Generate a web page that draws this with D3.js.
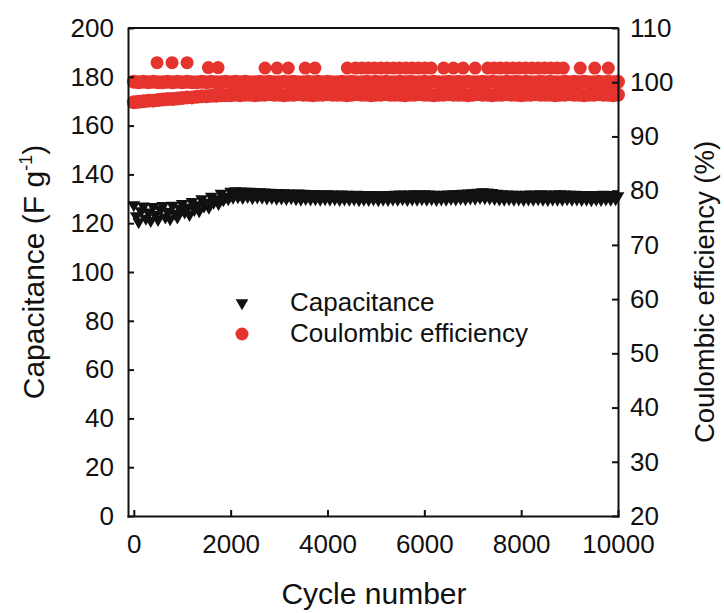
<!DOCTYPE html>
<html>
<head>
<meta charset="utf-8">
<script src="https://cdn.jsdelivr.net/npm/d3@7"></script>
<style>
  body { margin: 0; background: #fff; }
  svg text { font-family: "Liberation Sans", Arial, sans-serif; fill: #111; }
  .axis path, .axis line { stroke: #111; stroke-width: 2; }
</style>
</head>
<body>
<script>
// cycle numbers for capacitance (sampled every 50 cycles)
var capCycles = d3.range(0, 10001, 50);
var capValues = [
  127.5,123,120.5,125,127,122,124.5,121,126.8,123.5,121.5,125.5,127.2,122.5,124.8,121.8,127.3,124,122.5,126,128,124.5,126.5,123.5,128.8,125.5,127.5,125,130,127,128.5,126.5,131,128.5,130,128,132.2,129.5,131,130,133,
  130.6,133.2,130.8,133.1,130.5,133,130.9,133,130.4,132.9,130.7,132.8,130.6,132.7,130.3,132.6,130.5,132.5,130.2,132.5,
  130.3,132.4,130.1,132.3,130.4,132.2,130,132.3,129.8,132.2,130.1,132,129.9,132.1,130,132,129.7,131.9,130,132,
  129.8,131.9,130,131.8,129.6,131.9,129.9,131.8,129.7,131.7,129.9,131.8,129.5,131.7,129.8,131.6,129.6,131.7,129.9,131.6,
  129.5,131.6,129.8,131.7,129.6,131.6,129.9,131.8,129.7,131.9,130,131.8,129.6,131.9,129.9,132,129.8,131.9,130,132,
  129.7,131.9,130,131.8,129.6,131.7,129.9,131.8,129.8,131.9,130.1,132,129.9,132.1,130.2,132.2,130,132.3,130.3,132.4,
  130.2,132.6,130.5,132.8,130.4,132.7,130.3,132.5,130.1,132.2,129.9,132,129.8,131.9,130,131.8,129.7,131.8,129.9,131.7,
  129.6,131.8,129.9,131.9,129.7,131.8,130,132,129.8,131.9,129.6,131.8,129.9,131.9,129.8,132,129.7,131.9,130,131.8,
  129.7,131.8,129.9,131.7,129.6,131.6,129.8,131.7,129.5,131.6,129.8,131.7,129.6,131.8,129.9,131.7,129.7,131.6,130,131.2
];

// coulombic efficiency (sampled every 100 cycles), two dense rows
var ceCycles = d3.range(0, 10001, 100);
var ceMain = [
  100.1,100,100.1,100,100.1,100,100,100.1,100,100.1,
  100,100.1,100,100,100.1,100,100.1,100,100,100.1,
  100,100.1,100,100.1,100,100,100.1,100,100.1,100,
  100,100.1,100,100.1,100,100,100.1,100,100.1,100,
  100.1,100,100,100.1,100,100.1,100,100,100.1,100,
  100.1,100,100.1,100,100,100.1,100,100.1,100,100,
  100.1,100,100.1,100,100,100.1,100,100.1,100,100.1,
  100,100,100.1,100,100.1,100,100,100.1,100,100.1,
  100,100.1,100,100,100.1,100,100.1,100,100,100.1,
  100,100.1,100,100.1,100,100,100.1,100,100.1,100,
  100.1
];
var ceLow = [
  96.3,96.4,96.5,96.6,96.6,96.7,96.8,96.9,96.9,97,
  97.1,97.2,97.2,97.3,97.4,97.4,97.5,97.5,97.6,97.6,
  97.6,97.7,97.6,97.7,97.7,97.6,97.7,97.7,97.8,97.7,
  97.7,97.6,97.7,97.7,97.8,97.7,97.7,97.6,97.7,97.7,
  97.8,97.7,97.7,97.7,97.6,97.7,97.8,97.7,97.7,97.6,
  97.7,97.7,97.8,97.7,97.7,97.7,97.6,97.7,97.7,97.8,
  97.7,97.7,97.6,97.7,97.7,97.8,97.7,97.7,97.7,97.6,
  97.7,97.8,97.7,97.7,97.6,97.7,97.7,97.8,97.7,97.7,
  97.6,97.7,97.7,97.8,97.7,97.7,97.7,97.6,97.7,97.7,
  97.8,97.7,97.7,97.6,97.7,97.7,97.8,97.7,97.7,97.6,
  97.7
];
// scattered high points
var ceHighCycles = [480,790,1100,1540,1740,2710,2960,3190,3540,3740,4410,
  4580,4710,4840,4970,5100,5230,5360,5490,5620,5750,5880,6010,6140,
  6400,6600,6800,7050,
  7310,7440,7570,7700,7830,7960,8090,8220,8350,8480,8610,8740,8870,
  9220,9520,9800];
var ceHighValues = [103.6,103.6,103.6,102.7,102.7,102.6,102.6,102.6,102.6,102.6,102.6,
  102.6,102.6,102.6,102.6,102.6,102.6,102.6,102.6,102.6,102.6,102.6,102.6,102.6,
  102.6,102.6,102.6,102.6,
  102.6,102.6,102.6,102.6,102.6,102.6,102.6,102.6,102.6,102.6,102.6,102.6,102.6,
  102.6,102.6,102.6];

var xTicks = [0, 2000, 4000, 6000, 8000, 10000];
var yLeftTicks = d3.range(0, 201, 20);
var yRightTicks = d3.range(20, 111, 10);

var W = 724, H = 613;
var plotLeft = 128, plotRight = 618, plotTop = 28, plotBottom = 516;

var svg = d3.select("body").append("svg")
  .attr("width", W).attr("height", H);

var x = d3.scaleLinear().domain([-120, 10000]).range([plotLeft, plotRight]);
var yL = d3.scaleLinear().domain([0, 200]).range([plotBottom, plotTop]);
var yR = d3.scaleLinear().domain([20, 110]).range([plotBottom, plotTop]);

var red = "#e5332e";

// capacitance triangles (pointing down)
var tri = d3.symbol().type(d3.symbolTriangle).size(70);
svg.append("g").selectAll("path")
  .data(capCycles)
  .enter().append("path")
  .attr("d", tri)
  .attr("fill", "#111")
  .attr("transform", function(d, i) {
    return "translate(" + x(d) + "," + yL(capValues[i]) + ") rotate(180)";
  });

// coulombic efficiency circles
var ceG = svg.append("g").attr("fill", red);
ceG.selectAll("circle.low")
  .data(ceCycles)
  .enter().append("circle")
  .attr("class", "low")
  .attr("cx", function(d) { return x(d); })
  .attr("cy", function(d, i) { return yR(ceLow[i]); })
  .attr("r", 7);
ceG.selectAll("circle.main")
  .data(ceCycles)
  .enter().append("circle")
  .attr("class", "main")
  .attr("cx", function(d) { return x(d); })
  .attr("cy", function(d, i) { return yR(ceMain[i]); })
  .attr("r", 7);
ceG.selectAll("circle.high")
  .data(ceHighCycles)
  .enter().append("circle")
  .attr("class", "high")
  .attr("cx", function(d) { return x(d); })
  .attr("cy", function(d, i) { return yR(ceHighValues[i]); })
  .attr("r", 6.5);

// axes
var fmt = d3.format("d");
svg.append("g")
  .attr("class", "axis")
  .attr("transform", "translate(0," + plotBottom + ")")
  .call(d3.axisBottom(x).tickValues(xTicks).tickFormat(fmt).tickSize(-6).tickSizeOuter(0).tickPadding(19))
  .selectAll("text").style("font-size", "26px");

svg.append("g")
  .attr("class", "axis")
  .attr("transform", "translate(" + plotLeft + ",0)")
  .call(d3.axisLeft(yL).tickValues(yLeftTicks).tickFormat(fmt).tickSize(-6).tickSizeOuter(0).tickPadding(14))
  .selectAll("text").style("font-size", "26px");

svg.append("g")
  .attr("class", "axis")
  .attr("transform", "translate(" + plotRight + ",0)")
  .call(d3.axisRight(yR).tickValues(yRightTicks).tickFormat(fmt).tickSize(-6).tickSizeOuter(0).tickPadding(12))
  .selectAll("text").style("font-size", "26px");

svg.selectAll(".axis .domain").attr("stroke-linecap", "square");

// top border
svg.append("line")
  .attr("x1", plotLeft).attr("x2", plotRight)
  .attr("y1", plotTop).attr("y2", plotTop)
  .attr("stroke", "#111").attr("stroke-width", 2);

// axis titles
svg.append("text")
  .attr("x", 374).attr("y", 604)
  .attr("text-anchor", "middle")
  .style("font-size", "30px")
  .text("Cycle number");

var yt = svg.append("text")
  .attr("transform", "translate(44,272) rotate(-90)")
  .attr("text-anchor", "middle")
  .style("font-size", "30px");
yt.append("tspan").text("Capacitance (F g");
yt.append("tspan").attr("dy", -12).style("font-size", "18px").text("-1");
yt.append("tspan").attr("dy", 12).text(")");

svg.append("text")
  .attr("transform", "translate(714,292) rotate(-90)")
  .attr("text-anchor", "middle")
  .style("font-size", "27.5px")
  .text("Coulombic efficiency (%)");

// legend
var legend = svg.append("g");
legend.append("path")
  .attr("d", d3.symbol().type(d3.symbolTriangle).size(70))
  .attr("fill", "#111")
  .attr("transform", "translate(242,303) rotate(180)");
legend.append("text")
  .attr("x", 290).attr("y", 311)
  .style("font-size", "26px")
  .text("Capacitance");
legend.append("circle")
  .attr("cx", 242).attr("cy", 334).attr("r", 6.5)
  .attr("fill", red);
legend.append("text")
  .attr("x", 290).attr("y", 342)
  .style("font-size", "26px")
  .text("Coulombic efficiency");
</script>
</body>
</html>
